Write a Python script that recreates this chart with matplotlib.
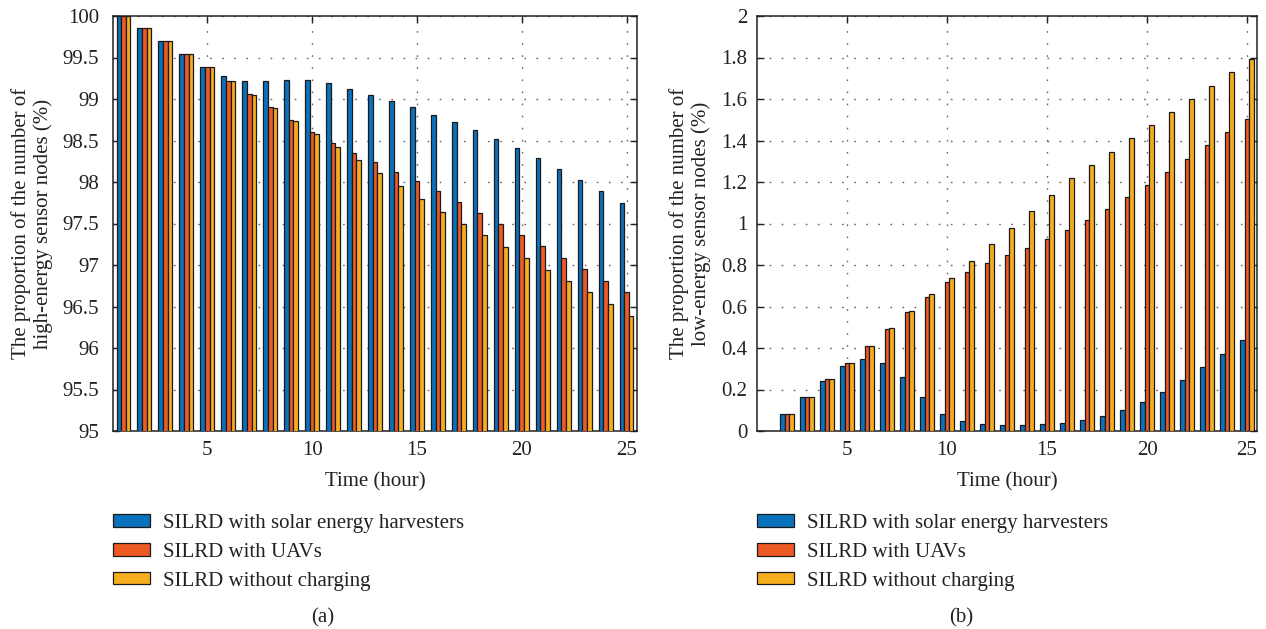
import numpy as np
import matplotlib
matplotlib.use('Agg')
import matplotlib.pyplot as plt
from matplotlib.patches import Patch

plt.rcParams['font.family'] = ['Liberation Serif', 'DejaVu Serif']

hours = np.arange(1, 26)

# proportion of high-energy sensor nodes (%)
high_solar = [100.00, 99.86, 99.70, 99.54, 99.39, 99.28, 99.22, 99.22, 99.23, 99.23,
              99.19, 99.12, 99.05, 98.98, 98.90, 98.81, 98.72, 98.63, 98.52, 98.41,
              98.29, 98.16, 98.02, 97.89, 97.75]
high_uav = [100.00, 99.86, 99.70, 99.54, 99.38, 99.22, 99.06, 98.90, 98.75, 98.60,
            98.47, 98.35, 98.24, 98.12, 98.01, 97.89, 97.76, 97.63, 97.50, 97.36,
            97.23, 97.09, 96.95, 96.81, 96.67]
high_none = [100.00, 99.86, 99.70, 99.54, 99.38, 99.22, 99.05, 98.89, 98.74, 98.58,
             98.42, 98.26, 98.11, 97.95, 97.79, 97.64, 97.50, 97.36, 97.22, 97.08,
             96.94, 96.81, 96.67, 96.53, 96.39]

# proportion of low-energy sensor nodes (%)
low_solar = [0.0, 0.082, 0.166, 0.243, 0.314, 0.345, 0.329, 0.260, 0.163, 0.084,
             0.047, 0.034, 0.031, 0.031, 0.034, 0.040, 0.052, 0.071, 0.100, 0.139,
             0.187, 0.246, 0.308, 0.372, 0.437]
low_uav = [0.0, 0.082, 0.166, 0.250, 0.330, 0.410, 0.493, 0.572, 0.646, 0.717,
           0.765, 0.809, 0.847, 0.884, 0.925, 0.968, 1.016, 1.070, 1.127, 1.187,
           1.250, 1.312, 1.377, 1.440, 1.504]
low_none = [0.0, 0.082, 0.166, 0.250, 0.330, 0.410, 0.495, 0.577, 0.659, 0.739,
            0.818, 0.900, 0.979, 1.060, 1.139, 1.217, 1.282, 1.346, 1.410, 1.473,
            1.536, 1.600, 1.664, 1.728, 1.791]

labels = ['SILRD with solar energy harvesters', 'SILRD with UAVs', 'SILRD without charging']
colors = ['#0a72bd', '#ee5a24', '#f6ae1f']

W, H = 1266, 629
fig = plt.figure(figsize=(W / 100, H / 100), dpi=100)
FS = 15


def draw_panel(rect, series, ylim, yticks, ylabel, label_x, ypad, legend_x, tag_xy, tag):
    ax = fig.add_axes(rect)
    bw = 0.222
    for k, (vals, c) in enumerate(zip(series, colors)):
        ax.bar(hours + (k - 1) * bw, vals, width=bw, color=c, edgecolor='#1a1a1a',
               linewidth=0.9, zorder=3)
    ax.set_xlim(0.5, 25.5)
    ax.set_ylim(*ylim)
    ax.set_xticks([5, 10, 15, 20, 25])
    ax.set_yticks(yticks)
    ax.set_yticklabels([('%g' % t) for t in yticks])
    ax.grid(True, linestyle=(0, (1.2, 7.5)), color='#666666', linewidth=1.0, zorder=0)
    ax.set_axisbelow(True)
    ax.tick_params(direction='in', length=5, width=1, top=True, right=True,
                   labelsize=FS, colors='#222222', pad=7)
    ax.tick_params(axis='y', pad=ypad)
    for s in ax.spines.values():
        s.set_linewidth(1.1)
        s.set_color('#222222')
    ax.set_xlabel('Time (hour)', fontsize=FS, color='#222222', labelpad=9)
    ax.set_ylabel(ylabel, fontsize=FS, color='#222222', linespacing=1.15)
    ax.yaxis.set_label_coords(label_x, 0.5)
    handles = [Patch(facecolor=c, edgecolor='#1a1a1a', linewidth=0.9) for c in colors]
    fig.legend(handles, labels, loc='upper left', frameon=False, fontsize=FS,
               bbox_to_anchor=(legend_x / W, 1 - 514 / H), borderpad=0,
               borderaxespad=0, handlelength=1.78, handleheight=0.53,
               handletextpad=0.6, labelspacing=0.47, labelcolor='#222222')
    fig.text(tag_xy[0] / W, 1 - tag_xy[1] / H, tag, fontsize=FS, color='#222222',
             ha='center', va='center')
    return ax


bottom = 1 - 431 / H
height = (431 - 16) / H

draw_panel([113 / W, bottom, 524 / W, height], [high_solar, high_uav, high_none],
           (95, 100), np.arange(95, 100.01, 0.5),
           'The proportion of the number of\nhigh-energy sensor nodes (%)',
           (53 - 113) / 524, 10, 113, (323, 618), '(a)')

draw_panel([757 / W, bottom, 500 / W, height], [low_solar, low_uav, low_none],
           (0, 2), np.round(np.arange(0, 2.01, 0.2), 1),
           'The proportion of the number of\nlow-energy sensor nodes (%)',
           (711 - 757) / 500, 7, 757, (961, 618), '(b)')

fig.savefig('out.png', dpi=100, facecolor='white')
